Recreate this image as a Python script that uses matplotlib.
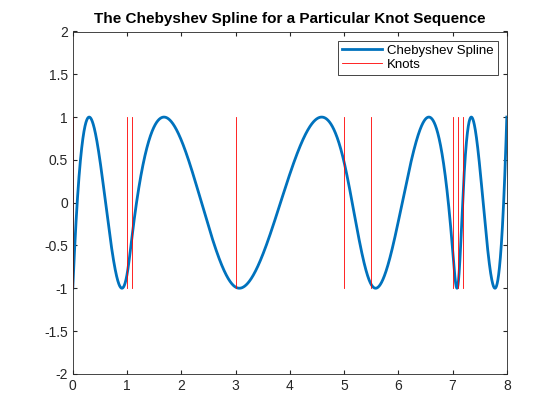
import numpy as np
import matplotlib
matplotlib.use("Agg")
import matplotlib.pyplot as plt

plt.rcParams['font.family'] = ['Liberation Sans', 'DejaVu Sans']

# Data: spline order and break sequence
order = 4
breaks = [0, 1, 1.1, 3, 5, 5.5, 7, 7.1, 7.2, 8]
knot_lo, knot_hi = -1, 1

# Full knot sequence (end knots of multiplicity = order)
t = np.array([breaks[0]] * (order - 1) + breaks + [breaks[-1]] * (order - 1), dtype=float)
n = len(t) - order


def bspline_basis(x, t, k):
    x = np.atleast_1d(np.asarray(x, dtype=float))
    m = len(t) - 1
    B = np.zeros((len(x), m))
    for i in range(m):
        if t[i] < t[i + 1]:
            B[:, i] = (x >= t[i]) & (x < t[i + 1])
    last = np.max(np.nonzero(t[:-1] < t[1:])[0])
    B[x >= t[-1], :] = 0
    B[x >= t[-1], last] = 1
    for kk in range(2, k + 1):
        Bn = np.zeros((len(x), m - kk + 1))
        for i in range(m - kk + 1):
            term = np.zeros(len(x))
            d1 = t[i + kk - 1] - t[i]
            if d1 > 0:
                term += (x - t[i]) / d1 * B[:, i]
            d2 = t[i + kk] - t[i + 1]
            if d2 > 0:
                term += (t[i + kk] - x) / d2 * B[:, i + 1]
            Bn[:, i] = term
        B = Bn
    return B


# Chebyshev spline via Remez-type iteration
signs = (-1.0) ** np.arange(n - 1, -1, -1)
tau = np.array([t[i + 1:i + order].mean() for i in range(n)])
xx = np.linspace(breaks[0], breaks[-1], 20001)
Bxx = bspline_basis(xx, t, order)
for _ in range(30):
    A = bspline_basis(tau, t, order)
    c = np.linalg.solve(A, signs)
    yy = Bxx @ c
    d = np.diff(yy)
    idx = np.nonzero(d[:-1] * d[1:] < 0)[0] + 1
    if len(idx) != n - 2:
        break
    tau = np.concatenate([[xx[0]], xx[idx], [xx[-1]]])
A = bspline_basis(tau, t, order)
c = np.linalg.solve(A, signs)
yy = Bxx @ c

fig = plt.figure(figsize=(5.6, 4.2), dpi=100)
ax = fig.add_axes([0.13, 0.11, 0.775, 0.815])
ax.plot(xx, yy, color="#0072BD", lw=2, label="Chebyshev Spline")
for i, b in enumerate(breaks):
    ax.plot([b, b], [knot_lo, knot_hi], color="red", lw=0.6,
            label="Knots" if i == 0 else None)
ax.set_xlim(0, 8)
ax.set_ylim(-2, 2)
ax.set_xticks(range(0, 9))
ax.set_yticks(np.arange(-2, 2.01, 0.5))
ax.set_yticklabels(["-2", "-1.5", "-1", "-0.5", "0", "0.5", "1", "1.5", "2"])
ax.tick_params(direction="in", length=3, labelsize=10, top=True, right=True,
               labeltop=False, labelright=False, color="#262626",
               labelcolor="#262626")
for s in ax.spines.values():
    s.set_linewidth(0.6)
    s.set_color("#262626")
    s.set_zorder(5)
ax.set_title("The Chebyshev Spline for a Particular Knot Sequence",
             fontweight="bold", fontsize=11)
leg = ax.legend(loc="upper right", fancybox=False, edgecolor="#262626",
                framealpha=1, fontsize=9.5, borderpad=0.3, labelspacing=0.12,
                handlelength=3.0, handletextpad=0.4, borderaxespad=0.7)
leg.get_frame().set_linewidth(0.6)
fig.savefig("out.png", dpi=100)
